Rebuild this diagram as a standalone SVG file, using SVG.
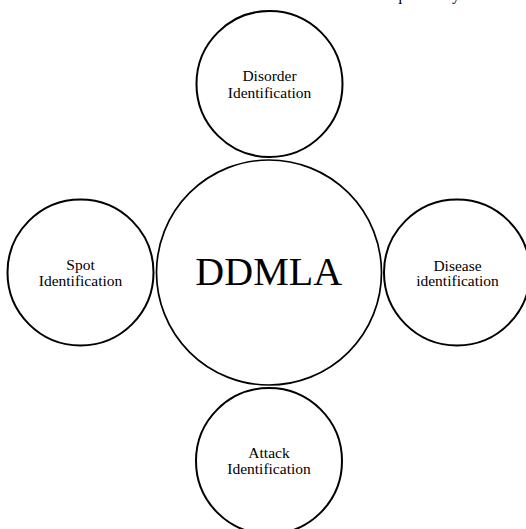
<svg xmlns="http://www.w3.org/2000/svg" width="526" height="529" viewBox="0 0 526 529">
  <style>
    .bg { fill: #ffffff; }
    .node { fill: #ffffff; stroke: #000000; stroke-width: 2; }
    .hub { fill: #ffffff; stroke: #000000; stroke-width: 1.7; }
    .lbl { font-family: "Liberation Serif", "Times New Roman", serif; font-size: 15.5px; fill: #000000; text-anchor: middle; }
    .big { font-family: "Liberation Serif", "Times New Roman", serif; font-size: 40px; fill: #000000; text-anchor: middle; }
    .cap { font-family: "Liberation Serif", "Times New Roman", serif; font-size: 16px; fill: #000000; }
  </style>
  <rect class="bg" x="0" y="0" width="526" height="529"/>
  <text class="cap" x="394" y="0" textLength="66" lengthAdjust="spacing">quality</text>
  <g id="connectors"></g>
  <g id="node-center">
    <circle class="hub" cx="269" cy="272.5" r="112.5"/>
    <text class="big" x="268.7" y="285">DDMLA</text>
  </g>
  <g id="node-disorder">
    <circle class="node" cx="269.5" cy="84" r="73"/>
    <text class="lbl" x="269.5" y="81">Disorder</text>
    <text class="lbl" x="269.5" y="97.5">Identification</text>
  </g>
  <g id="node-spot">
    <circle class="node" cx="80.5" cy="272.5" r="73"/>
    <text class="lbl" x="80.5" y="270">Spot</text>
    <text class="lbl" x="80.5" y="286">Identification</text>
  </g>
  <g id="node-disease">
    <circle class="node" cx="457" cy="272.5" r="73"/>
    <text class="lbl" x="457.5" y="270.5">Disease</text>
    <text class="lbl" x="457.5" y="286">identification</text>
  </g>
  <g id="node-attack">
    <circle class="node" cx="269" cy="461" r="73"/>
    <text class="lbl" x="269" y="458">Attack</text>
    <text class="lbl" x="269" y="474">Identification</text>
  </g>
</svg>
